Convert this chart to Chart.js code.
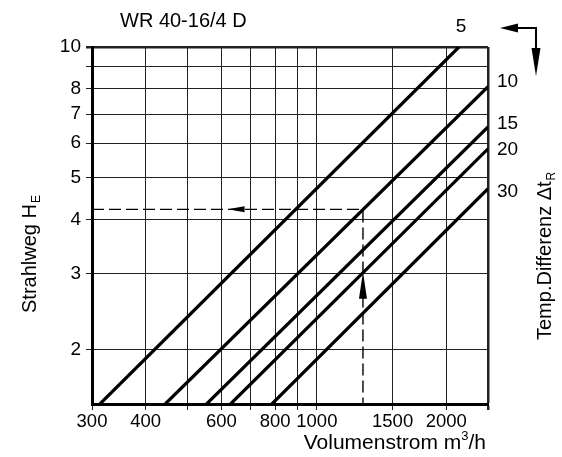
<!DOCTYPE html>
<html lang="de">
<head>
<meta charset="UTF-8">
<title>WR 40-16/4 D</title>
<script src="https://cdn.jsdelivr.net/npm/chart.js"></script>
<style>
  html, body { margin: 0; padding: 0; background: #fff; }
  #diagramm { display: block; }
</style>
</head>
<body>
<canvas id="diagramm" width="562" height="457"></canvas>
<script>
// Kurven je Temperaturdifferenz Δt_R
const tempDiffs = ['5', '10', '15', '20', '30'];
// Anfang der Kurven (unterer Rand)
const flowStart = [313, 444, 554, 630, 786];
const reachStart = [1.5, 1.5, 1.5, 1.5, 1.5];
// Ende der Kurven (oberer bzw. rechter Rand)
const flowEnd = [2140, 2500, 2500, 2500, 2500];
const reachEnd = [10, 8.1, 6.54, 5.82, 4.71];

// Ablesebeispiel (gestrichelt)
const exampleFlow = 1280;
const exampleReach = 4.22;

const xTicks = [300, 400, 500, 600, 700, 800, 900, 1000, 1500, 2000, 2500];
const xLabels = [300, 400, 600, 800, 1000, 1500, 2000];
const yTicks = [2, 3, 4, 5, 6, 7, 8, 9, 10];
const yLabels = [2, 3, 4, 5, 6, 7, 8, 10];

const schrift = '"Liberation Sans", Arial, Helvetica, sans-serif';

function pfeil(ctx, tx, ty, dx, dy, len, half) {
  // Pfeilspitze bei (tx,ty), zeigt in Richtung (dx,dy)
  const bx = tx - dx * len, by = ty - dy * len;
  ctx.beginPath();
  ctx.moveTo(tx, ty);
  ctx.lineTo(bx - dy * half, by + dx * half);
  ctx.lineTo(bx + dy * half, by - dx * half);
  ctx.closePath();
  ctx.fill();
}

const beschriftung = {
  id: 'beschriftung',
  afterDraw(chart) {
    const { ctx, chartArea: a, scales: { x, y } } = chart;
    ctx.save();
    ctx.fillStyle = '#000';
    ctx.strokeStyle = '#000';
    ctx.textBaseline = 'alphabetic';

    // Titel
    ctx.font = '20px ' + schrift;
    ctx.textAlign = 'left';
    ctx.fillText('WR 40-16/4 D', 120, 27);

    // Kurvenbeschriftung
    ctx.font = '19px ' + schrift;
    const shift = [0, -5, -3, 1, 3];
    tempDiffs.forEach((t, i) => {
      if (i === 0) {
        ctx.textAlign = 'center';
        ctx.fillText(t, x.getPixelForValue(flowEnd[i]) + 2, 32);
      } else {
        ctx.textAlign = 'left';
        ctx.textBaseline = 'middle';
        ctx.fillText(t, a.right + 9, y.getPixelForValue(reachEnd[i]) + shift[i]);
        ctx.textBaseline = 'alphabetic';
      }
    });

    // Pfeil oben rechts
    ctx.lineWidth = 2;
    ctx.beginPath();
    ctx.moveTo(a.right + 28, 28);
    ctx.lineTo(a.right + 48, 28);
    ctx.lineTo(a.right + 48, 60);
    ctx.stroke();
    pfeil(ctx, a.right + 12, 28, -1, 0, 18, 4.5);
    pfeil(ctx, a.right + 48, 76, 0, 1, 28, 4.5);

    // Pfeile auf dem Ablesebeispiel
    const hy = y.getPixelForValue(exampleReach);
    pfeil(ctx, x.getPixelForValue(620), hy, -1, 0, 17, 3);
    const vx = x.getPixelForValue(exampleFlow);
    pfeil(ctx, vx, y.getPixelForValue(3.03), 0, -1, 27, 4);

    // Achsentitel x
    const right = a.right - 2;
    ctx.textAlign = 'right';
    ctx.font = '21px ' + schrift;
    const tail = '/h';
    const wTail = ctx.measureText(tail).width;
    ctx.fillText(tail, right, 449);
    ctx.font = '13px ' + schrift;
    const wSup = ctx.measureText('3').width;
    ctx.fillText('3', right - wTail, 440);
    ctx.font = '21px ' + schrift;
    ctx.fillText('Volumenstrom m', right - wTail - wSup, 449);

    // Achsentitel y links
    ctx.save();
    ctx.translate(36, 313);
    ctx.rotate(-Math.PI / 2);
    ctx.textAlign = 'left';
    ctx.font = '20px ' + schrift;
    const t1 = 'Strahlweg H';
    ctx.fillText(t1, 0, 0);
    const w1 = ctx.measureText(t1).width;
    ctx.font = '12px ' + schrift;
    ctx.fillText('E', w1 + 1, 4);
    ctx.restore();

    // Achsentitel y rechts
    ctx.save();
    ctx.translate(551, 340);
    ctx.rotate(-Math.PI / 2);
    ctx.textAlign = 'left';
    ctx.font = '20px ' + schrift;
    const t2 = 'Temp.Differenz Δt';
    ctx.fillText(t2, 0, 0);
    const w2 = ctx.measureText(t2).width;
    ctx.font = '12px ' + schrift;
    ctx.fillText('R', w2 + 1, 4);
    ctx.restore();

    ctx.restore();
  }
};

new Chart(document.getElementById('diagramm'), {
  type: 'line',
  data: {
    datasets: [
      ...tempDiffs.map((t, i) => ({
        label: 'Δt ' + t,
        data: [{ x: flowStart[i], y: reachStart[i] }, { x: flowEnd[i], y: reachEnd[i] }],
        borderColor: '#000',
        borderWidth: 3.2,
        pointRadius: 0,
        tension: 0
      })),
      {
        label: 'Beispiel',
        data: [
          { x: xTicks[0], y: exampleReach },
          { x: exampleFlow, y: exampleReach },
          { x: exampleFlow, y: reachStart[0] }
        ],
        borderColor: '#000',
        borderWidth: 1.4,
        borderDash: [12, 5],
        pointRadius: 0,
        tension: 0
      }
    ]
  },
  options: {
    responsive: false,
    animation: false,
    devicePixelRatio: 1,
    layout: { padding: { top: 47, right: 74, left: 0, bottom: 0 } },
    plugins: { legend: { display: false }, tooltip: { enabled: false } },
    scales: {
      x: {
        type: 'logarithmic',
        min: 300,
        max: 2500,
        afterBuildTicks: s => { s.ticks = xTicks.map(v => ({ value: v })); },
        afterFit: s => { s.height = 53; },
        ticks: {
          autoSkip: false,
          maxRotation: 0,
          color: '#000',
          padding: 1,
          font: { family: schrift, size: 18.5 },
          callback: v => xLabels.includes(v) ? String(v) : ''
        },
        grid: {
          color: '#222',
          tickLength: 6,
          lineWidth: c => (c.tick && c.tick.value === 2500) ? 2.5 : 1
        },
        border: { color: '#000', width: 3 }
      },
      y: {
        type: 'logarithmic',
        min: 1.5,
        max: 10,
        afterBuildTicks: s => { s.ticks = yTicks.map(v => ({ value: v })); },
        afterFit: s => { s.width = 92; },
        ticks: {
          autoSkip: false,
          color: '#000',
          padding: 5,
          font: { family: schrift, size: 19 },
          callback: v => yLabels.includes(v) ? String(v) : ''
        },
        grid: {
          color: '#222',
          tickLength: 6,
          lineWidth: c => (c.tick && c.tick.value === 10) ? 2.5 : 1
        },
        border: { color: '#000', width: 3 }
      }
    }
  },
  plugins: [beschriftung]
});
</script>
</body>
</html>
